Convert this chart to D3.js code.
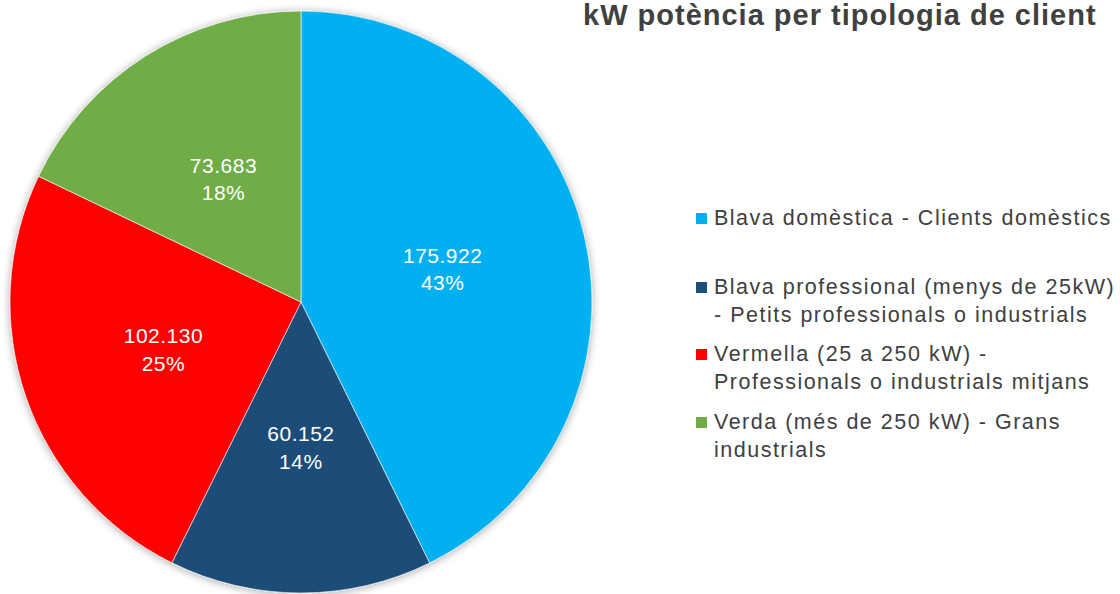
<!DOCTYPE html>
<html>
<head>
<meta charset="utf-8">
<script src="https://cdn.jsdelivr.net/npm/d3@7"></script>
<style>
  body { margin: 0; background: #fff; }
  svg { display: block; }
</style>
</head>
<body>
<svg width="1120" height="594"></svg>
<script>
const categories = [
    ["Blava domèstica - Clients domèstics"],
    ["Blava professional (menys de 25kW)", "- Petits professionals o industrials"],
    ["Vermella (25 a 250 kW) -", "Professionals o industrials mitjans"],
    ["Verda (més de 250 kW) - Grans", "industrials"]
]
const values = [175922, 60152, 102130, 73683]
const colors = ["#00b0f0", "#1f4e79", "#ff0000", "#70ad47"]
const title = "kW potència per tipologia de client"

const cx = 301, cy = 302, radius = 291;
const font = "'Liberation Sans', Arial, sans-serif";

// percentages rounded so that they sum to 100 (largest remainder)
const total = d3.sum(values);
const raw = values.map(v => v / total * 100);
const pct = raw.map(Math.floor);
let left = 100 - d3.sum(pct);
d3.range(values.length)
    .sort((a, b) => (raw[b] - pct[b]) - (raw[a] - pct[a]))
    .slice(0, left)
    .forEach(i => pct[i] += 1);

const fmt = d3.formatLocale({ decimal: ",", thousands: ".", grouping: [3], currency: ["", ""] }).format(",d");

const svg = d3.select('svg');

// soft shadow round the pie
const defs = svg.append('defs');
const filter = defs.append('filter')
    .attr('id', 'shadow')
    .attr('x', '-10%').attr('y', '-10%')
    .attr('width', '120%').attr('height', '120%');
filter.append('feGaussianBlur')
    .attr('in', 'SourceAlpha')
    .attr('stdDeviation', 4);
filter.append('feOffset').attr('dx', 0).attr('dy', 1).attr('result', 'blur');
filter.append('feComponentTransfer').append('feFuncA').attr('type', 'linear').attr('slope', 0.35);
const merge = filter.append('feMerge');
merge.append('feMergeNode');
merge.append('feMergeNode').attr('in', 'SourceGraphic');

const pie = d3.pie().sort(null).value(d => d);
const arcs = pie(values);
const arc = d3.arc().innerRadius(0).outerRadius(radius);

const g = svg.append('g')
    .attr('transform', `translate(${cx},${cy})`);

g.append('g')
    .attr('filter', 'url(#shadow)')
    .selectAll('path')
    .data(arcs)
    .enter()
    .append('path')
    .attr('d', arc)
    .attr('fill', (d, i) => colors[i])
    .attr('stroke', '#fff')
    .attr('stroke-width', 0.6);

const labels = g.append('g')
    .selectAll('text')
    .data(arcs)
    .enter()
    .append('text')
    .attr('transform', d => `translate(${arc.centroid(d)})`)
    .attr('text-anchor', 'middle')
    .attr('fill', '#fff')
    .style('font-family', font)
    .style('font-size', '21px')
    .style('letter-spacing', '0.5px');

labels.append('tspan')
    .attr('x', 0)
    .attr('y', -6)
    .text(d => fmt(d.data));
labels.append('tspan')
    .attr('x', 0)
    .attr('y', 21.5)
    .text((d, i) => pct[i] + '%');

// title
svg.append('text')
    .attr('x', 583)
    .attr('y', 25)
    .attr('fill', '#404040')
    .style('font-family', font)
    .style('font-weight', 'bold')
    .style('font-size', '29px')
    .style('letter-spacing', '1px')
    .text(title);

// legend
const legendY = [225, 294, 361, 429];
const legend = svg.append('g')
    .selectAll('g')
    .data(categories)
    .enter()
    .append('g')
    .attr('transform', (d, i) => `translate(696, ${legendY[i]})`);

legend.append('rect')
    .attr('x', 0)
    .attr('y', -12)
    .attr('width', 11)
    .attr('height', 11)
    .attr('fill', (d, i) => colors[i]);

legend.append('text')
    .attr('fill', '#404040')
    .style('font-family', font)
    .style('font-size', '21.5px')
    .style('letter-spacing', '1.5px')
    .selectAll('tspan')
    .data(d => d)
    .enter()
    .append('tspan')
    .attr('x', 18)
    .attr('y', (d, i) => i * 27.5)
    .text(d => d);
</script>
</body>
</html>
